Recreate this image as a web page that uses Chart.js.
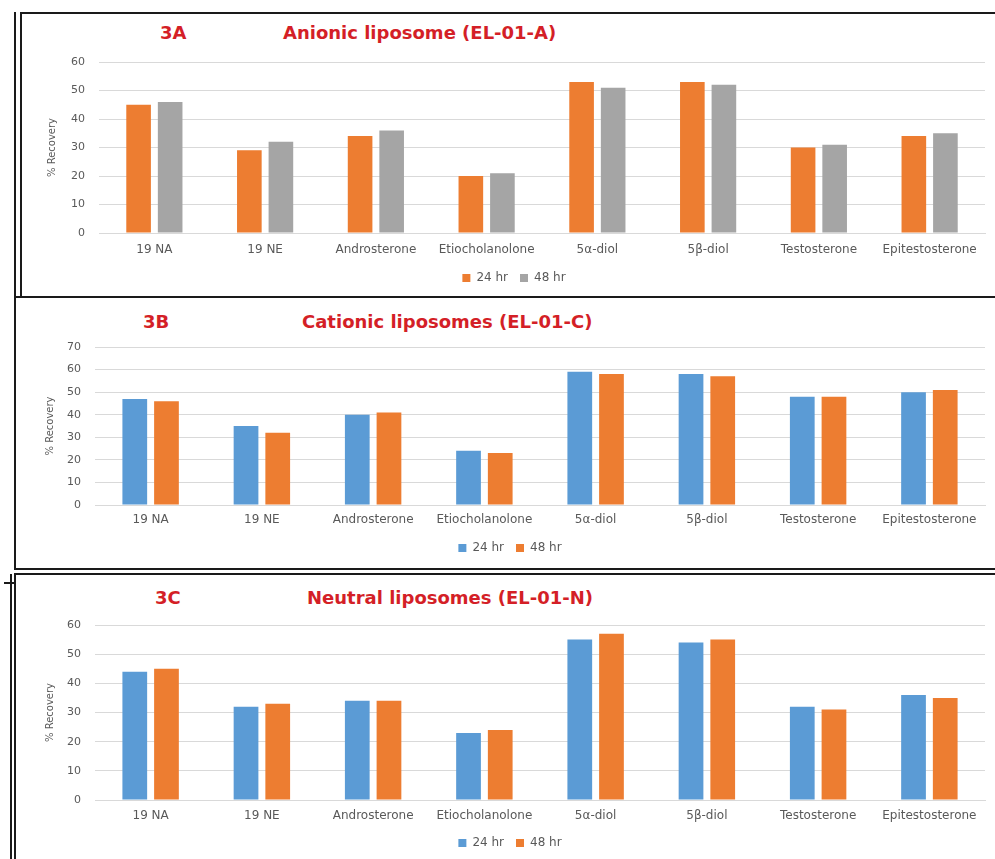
<!DOCTYPE html>
<html>
<head>
<meta charset="utf-8">
<script src="https://cdn.jsdelivr.net/npm/chart.js@4"></script>
<style>
  body { margin: 0; background: #fff; width: 995px; height: 859px; overflow: hidden; position: relative; font-family: "DejaVu Sans", sans-serif; }
  .panel { position: absolute; border: 2px solid #1a1a1a; border-right: none; background: #fff; }
  .vline { position: absolute; width: 2px; background: #1a1a1a; }
  .hline { position: absolute; height: 2px; background: #1a1a1a; }
  .ttl { position: absolute; color: #d41f27; font-weight: 700; font-size: 18px; line-height: 20px; white-space: nowrap; }
  canvas { position: absolute; }
</style>
</head>
<body>
<div class="vline" style="left:14px; top:12px; height:288px;"></div>
<div class="panel" style="left:20px; top:12px; width:980px; height:283px;"></div>
<div class="panel" style="left:14px; top:296px; width:986px; height:270px;"></div>
<div class="vline" style="left:10px; top:574px; height:285px;"></div>
<div class="hline" style="left:4px; top:582px; width:10px;"></div>
<div class="panel" style="left:14px; top:573px; width:986px; height:290px;"></div>

<div class="ttl" style="left:160px; top:23px;">3A</div>
<div class="ttl" style="left:283px; top:23px;">Anionic liposome (EL-01-A)</div>
<div class="ttl" style="left:143px; top:312px;">3B</div>
<div class="ttl" style="left:302px; top:312px;">Cationic liposomes (EL-01-C)</div>
<div class="ttl" style="left:155px; top:588px;">3C</div>
<div class="ttl" style="left:307px; top:588px;">Neutral liposomes (EL-01-N)</div>

<canvas id="chartA" style="left:22px; top:13px;" width="973" height="283"></canvas>
<canvas id="chartB" style="left:16px; top:298px;" width="979" height="269"></canvas>
<canvas id="chartC" style="left:16px; top:575px;" width="979" height="284"></canvas>

<script>
// data
const categories = ['19 NA', '19 NE', 'Androsterone', 'Etiocholanolone', '5\u03b1-diol', '5\u03b2-diol', 'Testosterone', 'Epitestosterone'];
const seriesLabels = ['24 hr', '48 hr'];

const anionic24 = [45, 29, 34, 20, 53, 53, 30, 34];
const anionic48 = [46, 32, 36, 21, 51, 52, 31, 35];

const cationic24 = [47, 35, 40, 24, 59, 58, 48, 50];
const cationic48 = [46, 32, 41, 23, 58, 57, 48, 51];

const neutral24 = [44, 32, 34, 23, 55, 54, 32, 36];
const neutral48 = [45, 33, 34, 24, 57, 55, 31, 35];

const yMaxA = 60;
const yMaxB = 70;
const yMaxC = 60;
const yStep = 10;

const ORANGE = '#ED7D31';
const GRAY = '#A5A5A5';
const BLUE = '#5B9BD5';
const TEXT = '#595959';
const GRID = '#d9d9d9';

function buildChart(id, values24, values48, colors, yMax, layout) {
    const ctx = document.getElementById(id);
    return new Chart(ctx, {
        type: 'bar',
        data: {
            labels: categories,
            datasets: [
                { label: seriesLabels[0], data: values24, backgroundColor: colors[0] },
                { label: seriesLabels[1], data: values48, backgroundColor: colors[1] }
            ]
        },
        options: {
            responsive: false,
            animation: false,
            datasets: { bar: { categoryPercentage: 0.57, barPercentage: 0.78 } },
            layout: { padding: { top: layout.top, right: 10, bottom: layout.bottom, left: layout.left } },
            plugins: {
                legend: {
                    position: 'bottom',
                    labels: {
                        boxWidth: 8, boxHeight: 8, padding: 12, color: TEXT,
                        font: { family: 'DejaVu Sans', size: 12 }
                    }
                },
                tooltip: { enabled: false }
            },
            scales: {
                x: {
                    grid: { display: false, drawTicks: false },
                    border: { display: true, color: GRID },
                    ticks: { color: TEXT, padding: layout.xPad, maxRotation: 0, autoSkip: false, font: { family: 'DejaVu Sans', size: 12 } },
                    afterFit: s => { s.height = layout.xHeight; }
                },
                y: {
                    min: 0, max: yMax,
                    grid: { color: GRID, drawTicks: false },
                    border: { display: false },
                    ticks: { stepSize: yStep, color: TEXT, padding: 14, font: { family: 'DejaVu Sans', size: 11 } },
                    title: {
                        display: true, text: '% Recovery', color: TEXT,
                        font: { family: 'DejaVu Sans', size: 10 },
                        padding: { top: layout.titleLeft, bottom: 0 }
                    },
                    afterFit: s => { s.width = layout.yWidth; }
                }
            }
        }
    });
}

buildChart('chartA', anionic24, anionic48, [ORANGE, GRAY], yMaxA,
    { top: 49, bottom: 2, left: 21, xHeight: 27, xPad: 10, yWidth: 56, titleLeft: 3 });
buildChart('chartB', cationic24, cationic48, [BLUE, ORANGE], yMaxB,
    { top: 49, bottom: 3, left: 19, xHeight: 25, xPad: 8, yWidth: 60, titleLeft: 9 });
buildChart('chartC', neutral24, neutral48, [BLUE, ORANGE], yMaxC,
    { top: 50, bottom: 0, left: 19, xHeight: 25, xPad: 9, yWidth: 60, titleLeft: 9 });
</script>
</body>
</html>
